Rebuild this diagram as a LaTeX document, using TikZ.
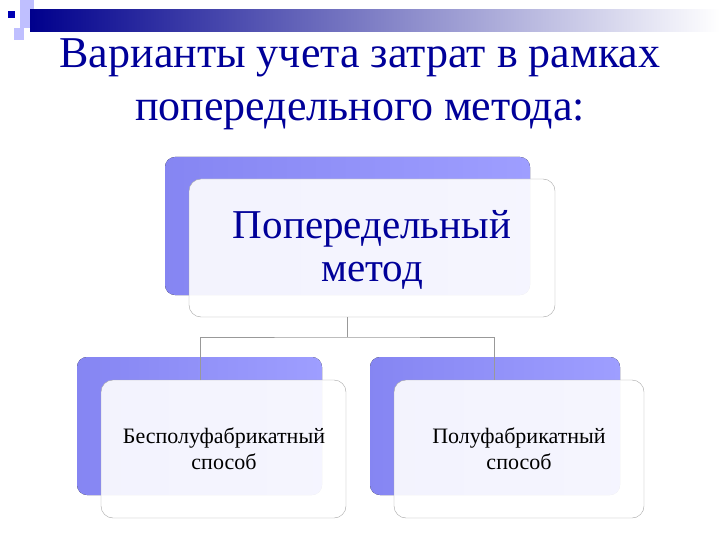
\documentclass[tikz,border=0pt]{standalone}
\usepackage{fontspec}
\setmainfont{Liberation Serif}
\begin{document}
\begin{tikzpicture}[x=1pt,y=-1pt,
  back/.style={rounded corners=10pt,left color=blue!45!white!95!black,right color=blue!38!white},
  front/.style={rounded corners=12pt,draw=gray!70,fill=white,fill opacity=0.9,text opacity=1},
  conn/.style={draw=gray!80,line width=0.6pt},
  txt/.style={text=blue!60!black,align=center}]
\useasboundingbox (0,0) rectangle (720,540);
% decoration
\fill[blue!25!white] (20,0) rectangle (34,28);
\fill[blue!25!white] (14,28) rectangle (24,40);
\fill[left color=blue!55!black,right color=white] (30,10) rectangle (720,32);
\fill[blue!70!black] (8,11) rectangle (15,18);
% title
\node[font=\fontsize{44}{53}\selectfont,text=blue!60!black,align=center] (title) at (360,84) {Варианты учета затрат в рамках\\попередельного метода:};
% boxes
\fill[back] (165,157) rectangle (530,295);
\node[front,minimum width=366pt,minimum height=138pt] (top) at (372,248) {};
\node[txt,font=\fontsize{41}{43}\selectfont] (toptext) at (372,250) {Попередельный\\метод};
\fill[back] (77,357) rectangle (322,495);
\node[front,minimum width=245pt,minimum height=138pt] (l) at (223.5,449) {};
\node[font=\fontsize{22}{26}\selectfont,align=center] (ltext) at (224,449) {Бесполуфабрикатный\\способ};
\fill[back] (370,357) rectangle (620,495);
\node[front,minimum width=250pt,minimum height=138pt] (r) at (519,449) {};
\node[font=\fontsize{22}{26}\selectfont,align=center] (rtext) at (519,449) {Полуфабрикатный\\способ};
% connectors
\coordinate (j) at (347,337);
\draw[conn] (top.south -| j) -- (j);
\draw[conn] (200,380) |- (j) -| (494,380);
\end{tikzpicture}
\end{document}
